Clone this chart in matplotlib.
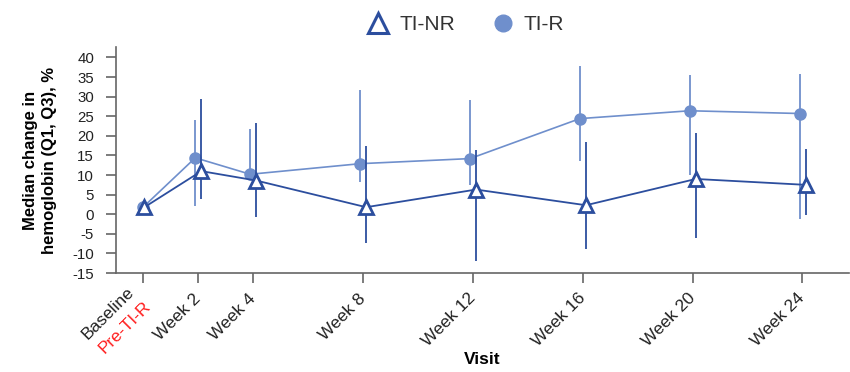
import matplotlib
matplotlib.use('Agg')
import matplotlib.pyplot as plt
from matplotlib.lines import Line2D

plt.rcParams['font.family'] = ['Liberation Sans', 'DejaVu Sans']
plt.rcParams['axes.unicode_minus'] = False

# data
weeks = [0, 2, 4, 8, 12, 16, 20, 24]
tick_labels = ['', 'Week 2', 'Week 4', 'Week 8', 'Week 12', 'Week 16', 'Week 20', 'Week 24']

tir_med = [1.8, 14.4, 10.2, 12.9, 14.2, 24.4, 26.4, 25.7]
tir_q1 = [1.8, 2.2, 9.0, 8.2, 7.5, 13.6, 10.0, -1.2]
tir_q3 = [1.8, 24.1, 21.8, 31.6, 29.1, 37.9, 35.5, 35.7]

tinr_med = [1.8, 11.0, 8.6, 1.8, 6.3, 2.3, 9.0, 7.5]
tinr_q1 = [1.8, 3.8, -0.8, -7.4, -11.8, -8.9, -6.1, -0.1]
tinr_q3 = [1.8, 29.3, 23.3, 17.3, 16.3, 18.4, 20.7, 16.7]

light = '#6F8FCC'
dark = '#2C4E9E'

fig = plt.figure(figsize=(8.5, 3.72), dpi=100)
ax = fig.add_axes([0.136, 0.266, 0.863, 0.608])

# small horizontal dodge so the two series don't sit on top of each other
x_r = [w - 0.1 if w > 0 else w for w in weeks]
x_nr = [w + 0.12 if w > 0 else w + 0.05 for w in weeks]

err_r = [[m - q for m, q in zip(tir_med, tir_q1)], [q - m for m, q in zip(tir_med, tir_q3)]]
err_nr = [[m - q for m, q in zip(tinr_med, tinr_q1)], [q - m for m, q in zip(tinr_med, tinr_q3)]]

ax.errorbar(x_r, tir_med, yerr=err_r, color=light, lw=1.2, elinewidth=1.3,
            marker='o', ms=8, mfc=light, mec=light, capsize=0, zorder=2)
ax.errorbar(x_nr, tinr_med, yerr=err_nr, color=dark, lw=1.3, elinewidth=1.3,
            marker='^', ms=10, mfc='white', mec=dark, mew=2, capsize=0, zorder=3)

ax.set_xlim(-1.0, 25.7)
ax.set_ylim(-15, 42.7)
ax.set_yticks(range(-15, 41, 5))
ax.set_xticks(weeks)
ax.set_xticklabels(tick_labels, rotation=45, ha='right', va='center',
                   rotation_mode='anchor', fontsize=12.5, color='#222222')

for s in ['top', 'right']:
    ax.spines[s].set_visible(False)
for s in ['left', 'bottom']:
    ax.spines[s].set_color('#666666')
    ax.spines[s].set_linewidth(1.2)
ax.tick_params(axis='both', length=7.5, width=1.2, color='#666666')
ax.tick_params(axis='x', pad=9)
ax.tick_params(axis='y', labelsize=10.8, labelcolor='#222222', pad=8)

# baseline label in two colours
tf = ax.get_xaxis_transform()
ax.annotate('Baseline', xy=(0, 0), xycoords=tf, xytext=(-8, -12), textcoords='offset points',
            rotation=45, ha='right', va='center', rotation_mode='anchor',
            fontsize=12.5, color='#222222', annotation_clip=False)
ax.annotate('Pre-TI-R', xy=(0, 0), xycoords=tf, xytext=(4, -22), textcoords='offset points',
            rotation=45, ha='right', va='center', rotation_mode='anchor',
            fontsize=12.5, color='#FF2020', annotation_clip=False)

ax.set_xlabel('Visit', fontsize=12.5, fontweight='bold', labelpad=2)
ax.set_ylabel('Median change in\nhemoglobin (Q1, Q3), %', fontsize=12,
              fontweight='bold', labelpad=11, linespacing=1.3)

handles = [
    Line2D([], [], ls='none', marker='^', ms=14, mfc='white', mec=dark, mew=2.2),
    Line2D([], [], ls='none', marker='o', ms=12, mfc=light, mec=light),
]
fig.legend(handles, ['TI-NR', 'TI-R'], loc='upper center', bbox_to_anchor=(0.542, 1.01),
           ncol=2, frameon=False, fontsize=15, handletextpad=0.0, columnspacing=1.3,
           labelcolor='#333333')

fig.savefig('out.png', dpi=100)
